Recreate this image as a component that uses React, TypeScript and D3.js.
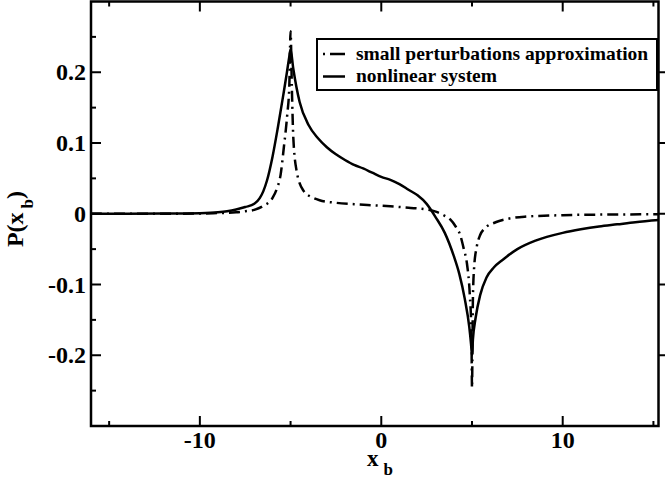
import { useEffect, useRef } from "react"
import * as d3 from "d3"

// nonlinear system (solid)
const xNonlinear = [
  -16, -14, -12, -10, -9, -8.5, -8, -7.5, -7, -6.7, -6.5, -6.3, -6, -5.7, -5.4, -5.2, -5.07, -5, -4.85, -4.5, -4,
  -3.5, -3, -2.5, -2, -1.5, -1, -0.5, 0, 0.5, 1, 1.5, 2, 2.5, 3, 3.5, 4, 4.3, 4.6, 4.85, 4.95, 5, 5.05, 5.2, 5.45,
  5.8, 6.2, 6.7, 7.5, 8.5, 10, 11, 12, 13, 14, 15.3,
]
const pNonlinear = [
  0, 0, 0.0002, 0.0008, 0.002, 0.0035, 0.006, 0.0095, 0.014, 0.022, 0.032, 0.047, 0.08, 0.122, 0.168, 0.2, 0.222,
  0.232, 0.205, 0.158, 0.125, 0.107, 0.094, 0.084, 0.076, 0.069, 0.064, 0.058, 0.052, 0.048, 0.042, 0.034, 0.026,
  0.014, -0.005, -0.027, -0.06, -0.085, -0.12, -0.16, -0.185, -0.2, -0.178, -0.147, -0.115, -0.09, -0.076, -0.065,
  -0.05, -0.038, -0.027, -0.022, -0.018, -0.015, -0.012, -0.009,
]

// small perturbations approximation (dash-dot)
const xSmall = [
  -16, -12, -10, -9, -8, -7.5, -7, -6.5, -6, -5.75, -5.55, -5.37, -5.18, -5.07, -5, -4.93, -4.85, -4.67, -4.3, -3.8,
  -3.4, -2.5, -1.5, -0.5, 0.5, 1.5, 2.5, 3, 3.5, 3.8, 4.1, 4.35, 4.55, 4.72, 4.88, 4.97, 5, 5.05, 5.12, 5.26, 5.45,
  5.65, 6.3, 7, 8, 10, 12, 15.3,
]
const pSmall = [
  0, 0, 0.0003, 0.001, 0.002, 0.0035, 0.0055, 0.011, 0.022, 0.036, 0.055, 0.094, 0.141, 0.18, 0.258, 0.18, 0.108,
  0.061, 0.033, 0.023, 0.019, 0.0155, 0.0135, 0.012, 0.0105, 0.0085, 0.006, 0.003, -0.003, -0.008, -0.018, -0.03,
  -0.05, -0.07, -0.115, -0.17, -0.246, -0.12, -0.075, -0.047, -0.03, -0.022, -0.012, -0.007, -0.004, -0.002, -0.0012,
  -0.0008,
]

const xMajor = [-10, 0, 10]
const xMinor = [-15, -5, 5, 15]
const yMajor = [-0.2, -0.1, 0, 0.1, 0.2]
const yMinor = [-0.25, -0.15, -0.05, 0.05, 0.15, 0.25]

const seriesLabels = ["small perturbations approximation", "nonlinear system"]

const W = 665
const H = 480
const FONT = "'Liberation Serif', 'Times New Roman', serif"

export default function App() {
  const svgRef = useRef<SVGSVGElement>(null)

  useEffect(() => {
    if (!svgRef.current) return
    document.body.style.margin = "0"
    const svg = d3.select(svgRef.current)
    svg.selectAll("*").remove()

    const left = 91
    const right = 658.5
    const top = 1.5
    const bottom = 426

    const x = d3.scaleLinear().domain([-16, 15.28]).range([left, right])
    const y = d3.scaleLinear().domain([-0.3, 0.3]).range([bottom, top])

    svg.append("rect").attr("width", W).attr("height", H).attr("fill", "#fff")

    svg
      .append("clipPath")
      .attr("id", "plot-clip")
      .append("rect")
      .attr("x", left)
      .attr("y", top)
      .attr("width", right - left)
      .attr("height", bottom - top)

    const line = d3
      .line<[number, number]>()
      .x((d) => x(d[0]))
      .y((d) => y(d[1]))
      .curve(d3.curveMonotoneX)

    const plot = svg.append("g").attr("clip-path", "url(#plot-clip)")

    plot
      .append("path")
      .datum(xSmall.map((v, i) => [v, pSmall[i]] as [number, number]))
      .attr("d", line)
      .attr("fill", "none")
      .attr("stroke", "#000")
      .attr("stroke-width", 2.5)
      .attr("stroke-dasharray", "11,5,2,5")

    plot
      .append("path")
      .datum(xNonlinear.map((v, i) => [v, pNonlinear[i]] as [number, number]))
      .attr("d", line)
      .attr("fill", "none")
      .attr("stroke", "#000")
      .attr("stroke-width", 2.5)

    // frame
    svg
      .append("rect")
      .attr("x", left)
      .attr("y", top)
      .attr("width", right - left)
      .attr("height", bottom - top)
      .attr("fill", "none")
      .attr("stroke", "#000")
      .attr("stroke-width", 2.5)

    const ticks = svg.append("g").attr("stroke", "#000").attr("stroke-width", 2)
    const addX = (vals: number[], len: number) => {
      vals.forEach((v) => {
        ticks.append("line").attr("x1", x(v)).attr("x2", x(v)).attr("y1", bottom).attr("y2", bottom - len)
        ticks.append("line").attr("x1", x(v)).attr("x2", x(v)).attr("y1", top).attr("y2", top + len)
      })
    }
    addX(xMajor, 10)
    addX(xMinor, 5)
    yMajor.forEach((v) => {
      ticks.append("line").attr("x1", left).attr("x2", left + 10).attr("y1", y(v)).attr("y2", y(v))
      ticks.append("line").attr("x1", right).attr("x2", right + 10).attr("y1", y(v)).attr("y2", y(v))
    })
    yMinor.forEach((v) => {
      ticks.append("line").attr("x1", left).attr("x2", left + 5).attr("y1", y(v)).attr("y2", y(v))
    })

    // tick labels
    svg
      .append("g")
      .selectAll("text")
      .data(xMajor)
      .join("text")
      .attr("x", (d) => x(d))
      .attr("y", 448)
      .attr("text-anchor", "middle")
      .style("font-family", FONT)
      .style("font-weight", "bold")
      .style("font-size", "24px")
      .text((d) => String(d))

    svg
      .append("g")
      .selectAll("text")
      .data(yMajor)
      .join("text")
      .attr("x", 86)
      .attr("y", (d) => y(d))
      .attr("dy", "0.34em")
      .attr("text-anchor", "end")
      .style("font-family", FONT)
      .style("font-weight", "bold")
      .style("font-size", "24px")
      .text((d) => (d === 0 ? "0" : String(d)))

    // axis titles
    const xt = svg
      .append("text")
      .attr("x", 367)
      .attr("y", 466)
      .style("font-family", FONT)
      .style("font-weight", "bold")
      .style("font-size", "23px")
    xt.append("tspan").text("x")
    xt.append("tspan").attr("dx", 5).attr("dy", 9).style("font-size", "17px").text("b")

    const yt = svg
      .append("text")
      .attr("transform", "translate(23,219) rotate(-90)")
      .attr("text-anchor", "middle")
      .style("font-family", FONT)
      .style("font-weight", "bold")
      .style("font-size", "24px")
    yt.append("tspan").text("P(x")
    yt.append("tspan").attr("dx", 4).attr("dy", 10).style("font-size", "17px").text("b")
    yt.append("tspan").attr("dy", -10).text(")")

    // legend
    const lg = svg.append("g")
    lg.append("rect")
      .attr("x", 317)
      .attr("y", 39)
      .attr("width", 340)
      .attr("height", 51)
      .attr("fill", "#fff")
      .attr("stroke", "#000")
      .attr("stroke-width", 2)
    const rows = [
      { y: 54, dash: "2,5,15,5" },
      { y: 76.5, dash: null },
    ]
    rows.forEach((r, i) => {
      lg.append("line")
        .attr("x1", 323)
        .attr("x2", 345)
        .attr("y1", r.y)
        .attr("y2", r.y)
        .attr("stroke", "#000")
        .attr("stroke-width", 2.5)
        .attr("stroke-dasharray", r.dash)
      lg.append("text")
        .attr("x", 356)
        .attr("y", r.y + 5.5)
        .style("font-family", FONT)
        .style("font-weight", "bold")
        .style("font-size", "19.5px")
        .text(seriesLabels[i])
    })
  }, [])

  return <svg ref={svgRef} width={W} height={H} style={{ position: "absolute", left: 0, top: 0, display: "block" }} />
}
